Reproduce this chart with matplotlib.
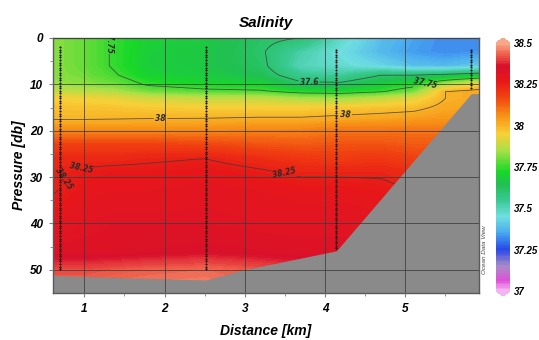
import matplotlib
matplotlib.use("Agg")
import matplotlib.pyplot as plt
import numpy as np
from matplotlib.colors import LinearSegmentedColormap

# ---------------------------------------------------------------- data
# distance of the grid columns (km) and pressure of the grid rows (db)
dist_cols = [0.61, 1.0, 1.35, 1.8, 2.5, 3.2, 3.7, 4.2, 4.7, 5.1, 5.5, 5.92]
press_rows = [0, 3, 6, 8, 10, 11.5, 13, 15, 17.5, 20, 23, 26, 29, 33, 40, 46, 50, 55]

# salinity, one list per column (top -> bottom)
sal_cols = [
    [37.82, 37.82, 37.82, 37.82, 37.84, 37.88, 37.95, 37.975, 37.998, 38.07, 38.18, 38.23, 38.24, 38.245, 38.29, 38.33, 38.41, 38.45],
    [37.79, 37.79, 37.79, 37.80, 37.82, 37.87, 37.94, 37.975, 37.998, 38.07, 38.18, 38.23, 38.26, 38.28, 38.31, 38.33, 38.41, 38.45],
    [37.745, 37.745, 37.745, 37.76, 37.80, 37.86, 37.93, 37.97, 38.0, 38.07, 38.18, 38.23, 38.27, 38.29, 38.32, 38.33, 38.42, 38.46],
    [37.70, 37.69, 37.69, 37.70, 37.74, 37.80, 37.90, 37.96, 38.002, 38.07, 38.18, 38.24, 38.27, 38.29, 38.32, 38.34, 38.43, 38.47],
    [37.68, 37.67, 37.67, 37.68, 37.71, 37.77, 37.88, 37.95, 38.004, 38.07, 38.17, 38.25, 38.28, 38.30, 38.32, 38.35, 38.44, 38.47],
    [37.62, 37.61, 37.62, 37.64, 37.70, 37.76, 37.88, 37.95, 38.01, 38.08, 38.15, 38.22, 38.26, 38.29, 38.31, 38.34, 38.42, 38.45],
    [37.60, 37.52, 37.50, 37.55, 37.62, 37.72, 37.85, 37.95, 38.01, 38.08, 38.14, 38.20, 38.24, 38.28, 38.31, 38.33, 38.40, 38.44],
    [37.48, 37.45, 37.47, 37.53, 37.62, 37.71, 37.84, 37.96, 38.02, 38.10, 38.15, 38.19, 38.24, 38.28, 38.31, 38.33, 38.38, 38.42],
    [37.39, 37.38, 37.43, 37.60, 37.68, 37.74, 37.88, 37.97, 38.03, 38.10, 38.15, 38.20, 38.24, 38.27, 38.30, 38.31, 38.34, 38.38],
    [37.35, 37.34, 37.39, 37.60, 37.72, 37.80, 37.92, 37.98, 38.04, 38.10, 38.14, 38.18, 38.22, 38.25, 38.28, 38.30, 38.32, 38.35],
    [37.32, 37.32, 37.38, 37.62, 37.85, 38.00, 38.00, 38.02, 38.05, 38.10, 38.14, 38.18, 38.22, 38.25, 38.28, 38.30, 38.32, 38.35],
    [37.33, 37.33, 37.41, 37.65, 37.95, 38.02, 38.02, 38.03, 38.05, 38.10, 38.14, 38.18, 38.22, 38.25, 38.28, 38.30, 38.32, 38.35],
]

# sea floor outline
floor_x = [0.61, 1.5, 2.52, 3.0, 4.15, 5.83, 5.92]
floor_p = [51.3, 51.8, 52.3, 50.1, 46.0, 12.1, 12.1]

# CTD stations: position, first and last sample (db), bin size
stn_x = [0.70, 2.52, 4.14, 5.82]
stn_top = [2.0, 2.0, 2.5, 2.5]
stn_bot = [50.0, 50.0, 45.5, 11.0]
stn_step = 0.55

contour_levels = [37.6, 37.75, 38.0, 38.25]
label_spots = [(1.25, 0.6), (3.8, 9.4), (5.25, 9.7), (1.95, 17.5),
               (4.25, 16.5), (0.95, 27.3), (0.8, 31.0), (3.5, 28.5)]
cbar_ticks = [37.0, 37.25, 37.5, 37.75, 38.0, 38.25, 38.5]

# ODV-like palette
pal_vals = [37.0, 37.06, 37.15, 37.25, 37.35, 37.45, 37.55, 37.65, 37.72,
            37.85, 37.95, 38.05, 38.18, 38.27, 38.36, 38.43, 38.5]
pal_cols = ["#f4b4f4", "#e050d8", "#a88cc8", "#2848e8", "#48a8f0", "#70e0e0",
            "#38c890", "#20c050", "#18d828", "#a8e048", "#f8d038", "#f89818",
            "#f04010", "#e81818", "#d8102c", "#ee5a48", "#f8a888"]

FONT = dict(family="Liberation Sans", weight="bold", style="italic")

# ---------------------------------------------------------------- field
vmin, vmax = 37.0, 38.5
cmap = LinearSegmentedColormap.from_list(
    "odv", [((v - vmin) / (vmax - vmin), c) for v, c in zip(pal_vals, pal_cols)])
cmap.set_under(pal_cols[0])
cmap.set_over(pal_cols[-1])

xf = np.linspace(dist_cols[0], dist_cols[-1], 320)
pf = np.linspace(0, 55, 300)
# resample columns in depth, then rows in distance
cols_f = np.array([np.interp(pf, press_rows, c) for c in sal_cols])  # (ncol, np)
Z = np.array([np.interp(xf, dist_cols, cols_f[:, j]) for j in range(len(pf))])

fig = plt.figure(figsize=(5.39, 3.40), dpi=100)
ax = fig.add_axes([53 / 539, 1 - 293 / 340, 426 / 539, 255 / 340])

cf = ax.contourf(xf, pf, Z, levels=np.linspace(vmin, vmax, 151), cmap=cmap,
                 extend="both", zorder=1)
cs = ax.contour(xf, pf, Z, levels=contour_levels, colors="#3a3a3a",
                linewidths=0.6, alpha=0.8, zorder=1.5)
lbls = ax.clabel(cs, manual=label_spots, inline=True, inline_spacing=2,
                 fmt={37.6: "37.6", 37.75: "37.75", 38.0: "38", 38.25: "38.25"},
                 fontsize=5.5)
for t in lbls:
    t.set_fontweight("bold")
    t.set_fontstyle("italic")
    t.set_color("#2a2a2a")

# sea floor
poly_x = floor_x + [floor_x[-1], floor_x[0]]
poly_p = floor_p + [55, 55]
ax.fill(poly_x, poly_p, color="#8a8a8a", lw=0, zorder=2)

# stations
for sx, t0, t1 in zip(stn_x, stn_top, stn_bot):
    pp = np.arange(t0, t1 + 0.01, stn_step)
    ax.plot(np.full_like(pp, sx), pp, ls="none", marker="o", ms=1.5,
            mew=0, color="#111111", zorder=4)

ax.set_xlim(dist_cols[0], dist_cols[-1])
ax.set_ylim(55, 0)
ax.set_xticks([1, 2, 3, 4, 5])
ax.set_xticks([1.5, 2.5, 3.5, 4.5, 5.5], minor=True)
ax.set_yticks([0, 10, 20, 30, 40, 50])
ax.set_yticks([5, 15, 25, 35, 45], minor=True)
ax.grid(True, which="major", color="#3c3c3c", lw=0.7, alpha=0.8)
ax.set_axisbelow(False)
ax.tick_params(which="both", direction="out", color="#808080")
ax.tick_params(which="major", length=3, width=0.8, pad=4)
ax.tick_params(which="minor", length=2, width=0.6)
for lab in ax.get_xticklabels() + ax.get_yticklabels():
    lab.set(fontsize=8.5, **FONT)
for sp in ax.spines.values():
    sp.set_color("#5a5a5a")
    sp.set_linewidth(1.0)

ax.set_title("Salinity", fontsize=11, pad=8, **FONT)
ax.set_xlabel("Distance [km]", fontsize=10, labelpad=7, **FONT)
ax.set_ylabel("Pressure [db]", fontsize=10, labelpad=3, **FONT)

# colour bar
cax = fig.add_axes([496 / 539, 1 - 296 / 340, 14 / 539, 258 / 340])
cb = fig.colorbar(cf, cax=cax, ticks=cbar_ticks, extendfrac=0.02)
cb.outline.set_visible(False)
cb.ax.tick_params(length=0, pad=3)
cb.ax.set_yticklabels([f"{t:g}" for t in cbar_ticks])
for lab in cb.ax.get_yticklabels():
    lab.set(fontsize=7, **FONT)

fig.text(484 / 539, 1 - 250 / 340, "Ocean Data View", rotation=90,
         fontsize=4.5, color="#444444", ha="center", va="center",
         family="Liberation Sans", style="italic")

fig.savefig("out.png", dpi=100)
